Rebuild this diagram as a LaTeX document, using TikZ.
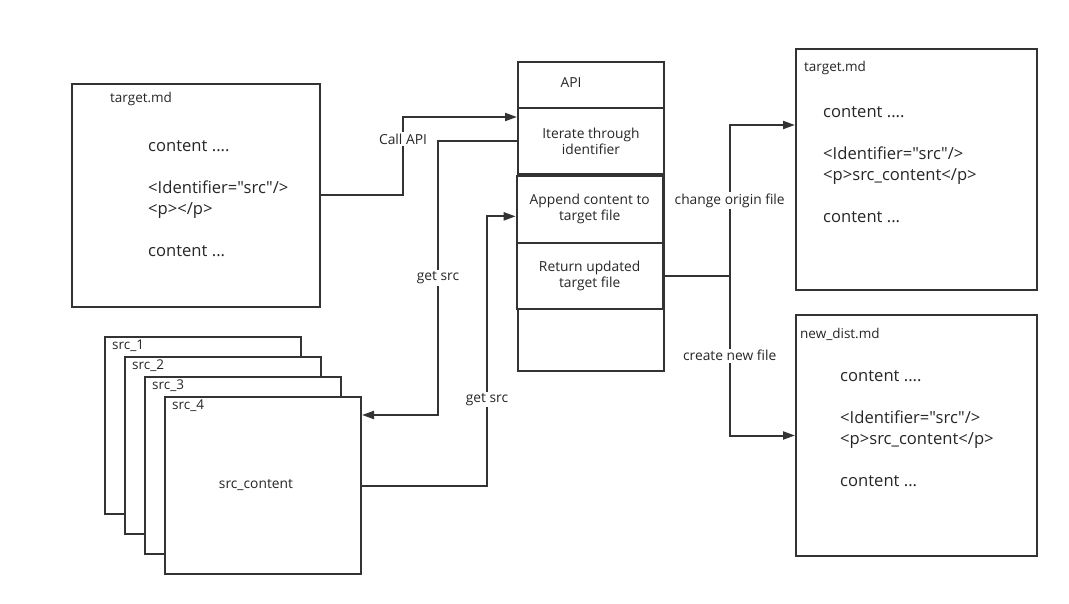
\documentclass[tikz,border=0pt]{standalone}
\usepackage{fontspec}
\setmainfont{Open Sans}[Ligatures=TeXOff]
\usetikzlibrary{arrows.meta,positioning}
\definecolor{lineGray}{HTML}{333333}
\definecolor{textGray}{HTML}{262626}
\tikzset{
    doc/.style={rectangle, draw=lineGray, line width=2pt, fill=white, anchor=north west, inner sep=0pt},
    cell/.style={rectangle, draw=lineGray, line width=2pt, fill=white, anchor=north west, minimum width=146pt, align=center, text=textGray, font=\fontsize{13.8}{16}\selectfont},
    title/.style={anchor=west, inner sep=0pt, text=textGray, font=\fontsize{13.5}{15}\selectfont},
    body/.style={anchor=north west, align=left, inner sep=0pt, text=textGray, font=\fontsize{16.6}{21}\selectfont},
    lbl/.style={fill=white, inner sep=1.5pt, text=textGray, font=\fontsize{13.8}{16}\selectfont},
    flow/.style={draw=lineGray, line width=2pt, -{Triangle[length=12pt,width=8pt]}}
}

\begin{document}
\begin{tikzpicture}[x=1pt, y=-1pt]
\useasboundingbox (0,0) rectangle (1069,604);

% Input document
\node[doc, minimum width=248pt, minimum height=223pt] (target) at (71,83) {};
\node[title] (targetTitle) at (110,99) {target.md};
\node[body] (targetBody) at (148,140) {content ....\\[21pt]<Identifier="src"/>\\<p></p>\\[21pt]content ...};

% Source documents
\foreach \i in {1,...,4} {
  \node[doc, minimum width=196pt, minimum height=177pt] (src\i) at ({104+20*(\i-1)},{336+20*(\i-1)}) {};
  \node[title] (srcTitle\i) at ({112+20*(\i-1)},{346+20*(\i-1)}) {src\_\i};
}
\node[lbl, fill=none] (srcText) at ([xshift=-7pt]src4.center) {src\_content};

% API column
\node[cell, minimum height=309pt] (api) at (517,61) {};
\node[cell, minimum height=45.7pt, label={[xshift=-20pt, yshift=2pt, text=textGray, font=\fontsize{13.8}{16}\selectfont]center:API}] (apiHead) at (517,61) {};
\node[cell, minimum height=66.6pt] (iter) at (517,106.7) {Iterate through\\identifier};
\node[cell, minimum height=66.7pt] (append) at (515.7,175) {Append content to\\target file};
\node[cell, minimum height=66.3pt] (update) at (515.7,241.7) {Return updated\\target file};

% Output documents
\node[doc, minimum width=241pt, minimum height=241pt] (outA) at (795,48) {};
\node[title] (outATitle) at (804,68) {target.md};
\node[body] (outABody) at (823,106) {content ....\\[21pt]<Identifier="src"/>\\<p>src\_content</p>\\[21pt]content ...};

\node[doc, minimum width=241pt, minimum height=241pt] (outB) at (795,314) {};
\node[title] (outBTitle) at (800,334) {new\_dist.md};
\node[body] (outBBody) at (840,370) {content ....\\[21pt]<Identifier="src"/>\\<p>src\_content</p>\\[21pt]content ...};

% Draw arrows
\draw[flow] (target.east) -- ++(82,0) |- node[lbl, pos=0.36] {Call API} ([yshift=24pt]iter.west);
\draw[flow] (iter.west) -- ++(-79,0) |- node[lbl, pos=0.25] {get src} ([yshift=70.5pt]src4.east);
\draw[flow] (src4.east) -- ++(125,0) |- node[lbl, pos=0.16] {get src} ([yshift=-7pt]append.west);

\draw[draw=lineGray, line width=2pt] (update.east) -- ++(66,0) coordinate (fork);
\draw[flow] (fork) |- node[lbl, pos=0.25] {change origin file} ([yshift=44.5pt]outA.west);
\draw[flow] (fork) |- node[lbl, pos=0.25] {create new file} (outB.west);

\end{tikzpicture}
\end{document}
